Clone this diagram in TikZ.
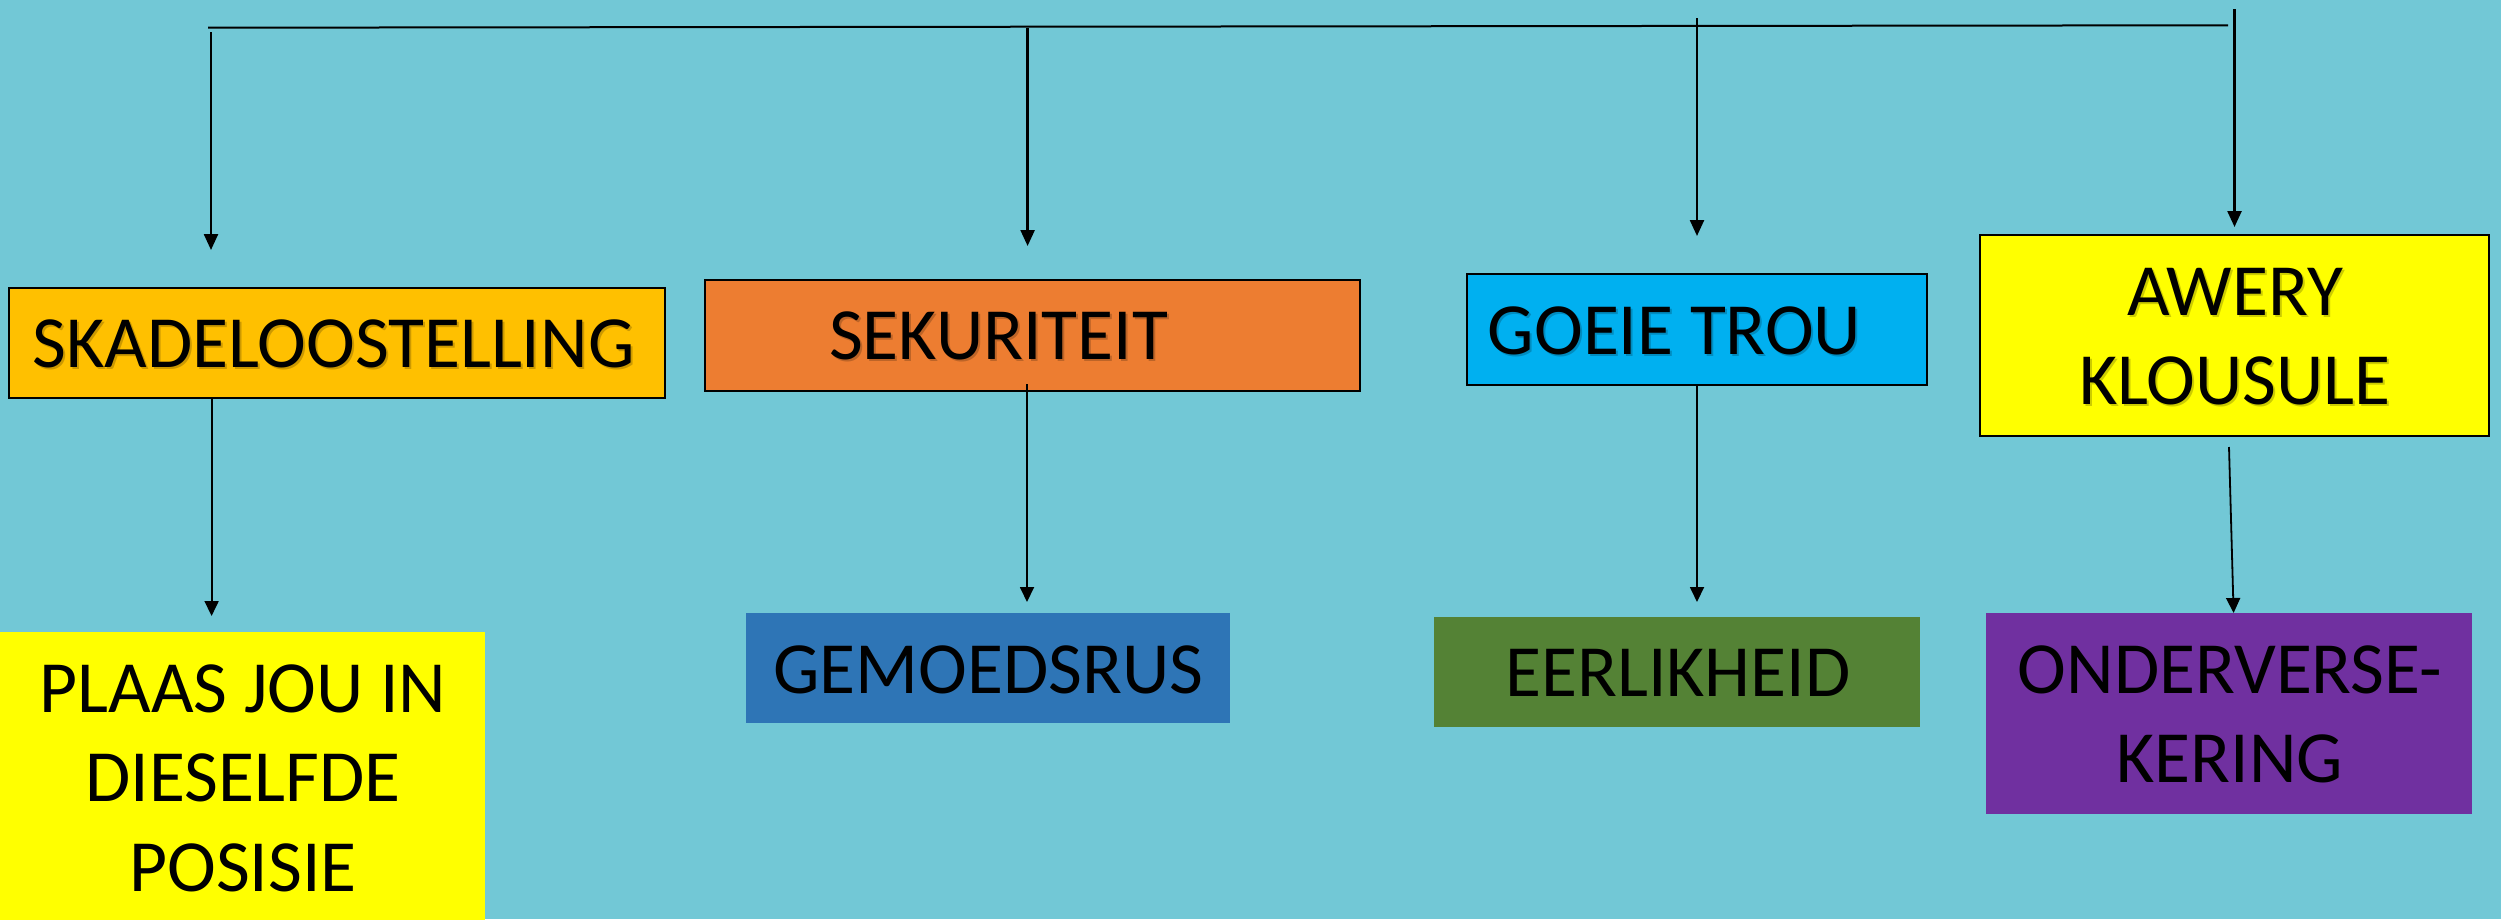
\documentclass[tikz,border=0pt]{standalone}
\usepackage{fontspec}
\setmainfont{Carlito}
\usetikzlibrary{arrows.meta}
\definecolor{bg}{HTML}{72C8D6}
\definecolor{cSkad}{HTML}{FFC000}
\definecolor{cSek}{HTML}{ED7D31}
\definecolor{cGoeie}{HTML}{00B0F0}
\definecolor{cYel}{HTML}{FFFF00}
\definecolor{cGem}{HTML}{2E75B6}
\definecolor{cEer}{HTML}{548235}
\definecolor{cOnd}{HTML}{7030A0}
\begin{document}
\begin{tikzpicture}[x=1pt,y=1pt,
  box/.style={draw=black,line width=2.5pt,inner sep=0pt,outer sep=0pt},
  flat/.style={draw=none,inner sep=0pt,outer sep=0pt},
  lbl/.style={inner sep=0pt,font=\fontsize{73.6}{89.5}\selectfont,align=center,text=black},
  shd/.style={lbl,text=black,opacity=0.2,xshift=2pt,yshift=-2pt},
  arr/.style={line width=2.4pt,-{Triangle[length=16pt,width=14pt]}},
  arrthin/.style={line width=1.8pt,-{Triangle[length=15pt,width=14pt]}},
]
\useasboundingbox (0,0) rectangle (2501,-919);
\clip (0,0) rectangle (2501,-919);
\fill[bg] (0,0) rectangle (2501,-919);

% boxes
\node[box,fill=cSkad,minimum width=656pt,minimum height=110pt] (skad) at (337,-343) {};
\node[box,fill=cSek,minimum width=655pt,minimum height=111pt] (sek) at (1032.5,-335.5) {};
\node[box,fill=cGoeie,minimum width=460pt,minimum height=111pt] (goeie) at (1697,-329.5) {};
\node[box,fill=cYel,minimum width=509pt,minimum height=201pt] (awery) at (2234.5,-335.5) {};
\node[flat,fill=cYel,minimum width=490pt,minimum height=300pt] (plaas) at (240,-782) {};
\node[flat,fill=cGem,minimum width=484pt,minimum height=110pt] (gem) at (988,-668) {};
\node[flat,fill=cEer,minimum width=486pt,minimum height=110pt] (eer) at (1677,-672) {};
\node[flat,fill=cOnd,minimum width=486pt,minimum height=201pt] (ond) at (2229,-713.5) {};

% texts (top boxes with a soft shadow)
\node[shd] at (333.5,-344) {SKADELOOSTELLING};
\node[lbl] (skadT) at (333.5,-344) {SKADELOOSTELLING};
\node[shd] at (998.5,-336) {SEKURITEIT};
\node[lbl] (sekT) at (998.5,-336) {SEKURITEIT};
\node[shd] at (1674.5,-330.5) {GOEIE TROU};
\node[lbl] (goeieT) at (1674.5,-330.5) {GOEIE TROU};
\node[shd] at (2235,-336.5) {AWERY\\KLOUSULE};
\node[lbl] (aweryT) at (2235,-336.5) {AWERY\\KLOUSULE};
\node[lbl] (plaasT) at (243,-778) {PLAAS JOU IN\\DIESELFDE\\POSISIE};
\node[lbl] (gemT) at (988.5,-669.5) {GEMOEDSRUS};
\node[lbl] (eerT) at (1678,-673) {EERLIKHEID};
\node[lbl] (ondT) at (2230,-714.5) {ONDERVERSE-\\KERING};

% top bar
\coordinate (tl) at (208,-27.7);
\coordinate (tr) at (2228,-25.3);
\draw[line width=2pt] (tl) -- (tr);

% drops from the bar
\coordinate (s1) at (211,-32);     \coordinate (e1) at (211,-250);
\coordinate (s2) at (1027.6,-28);  \coordinate (e2) at (1027.6,-246);
\coordinate (s3) at (1697,-18);    \coordinate (e3) at (1697,-236);
\coordinate (s4) at (2234.5,-9);   \coordinate (e4) at (2234.5,-227);
\draw[arr] (s1) -- (e1);
\draw[arr] (s2) -- (e2);
\draw[arr] (s3) -- (e3);
\draw[arr] (s4) -- (e4);

% arrows between boxes
\coordinate (f1) at (211.6,-616);
\coordinate (f2) at (1027,-602);
\coordinate (f3) at (1697,-602);
\draw[arrthin] (skad.south -| f1) -- (f1);
\draw[arrthin] (1027,-384) -- (f2);
\draw[arrthin] (goeie.south -| f3) -- (f3);
\draw[arrthin] (2229,-447) -- (ond.north -| 2233.6,0);
\end{tikzpicture}
\end{document}
